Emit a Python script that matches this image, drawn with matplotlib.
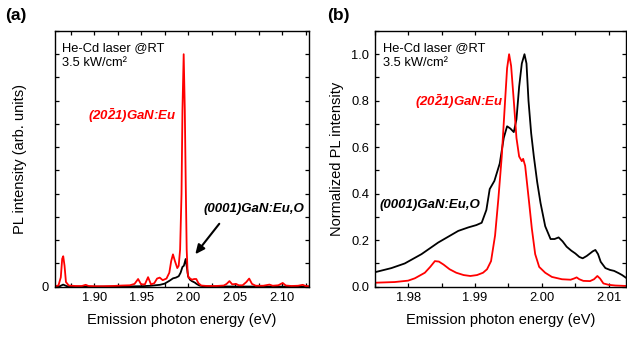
import numpy as np
import matplotlib
matplotlib.use("Agg")
import matplotlib.pyplot as plt
from matplotlib.ticker import MultipleLocator, FixedLocator, FuncFormatter

plt.rcParams['font.family'] = ['Liberation Sans', 'DejaVu Sans']
plt.rcParams['mathtext.fontset'] = 'custom'
plt.rcParams['mathtext.rm'] = 'Liberation Sans:bold:italic'
plt.rcParams['mathtext.it'] = 'Liberation Sans:bold:italic'
plt.rcParams['mathtext.bf'] = 'Liberation Sans:bold:italic'

# ---------------- data, panel (a): PL intensity (arb. units) ----------------
ea_red = [1.858, 1.862, 1.8645, 1.866, 1.8671, 1.8685, 1.870, 1.873, 1.880, 1.887,
          1.891, 1.894, 1.900, 1.910, 1.920, 1.930, 1.938, 1.943, 1.9468, 1.950,
          1.954, 1.9574, 1.9605, 1.964, 1.967, 1.9698, 1.973, 1.977, 1.980, 1.982,
          1.9839, 1.986, 1.9885, 1.990, 1.9915, 1.993, 1.994, 1.9953, 1.9965, 1.9975,
          1.9985, 1.9995, 2.0005, 2.002, 2.004, 2.0065, 2.0087, 2.011, 2.014, 2.020,
          2.030, 2.038, 2.041, 2.044, 2.047, 2.051, 2.054, 2.058, 2.062, 2.065,
          2.068, 2.072, 2.080, 2.0866, 2.090, 2.096, 2.1007, 2.104, 2.110, 2.117,
          2.122, 2.125, 2.129]
ia_red = [0.02, 0.05, 0.4, 1.2, 1.31, 0.9, 0.2, 0.05, 0.03, 0.03,
          0.08, 0.03, 0.02, 0.02, 0.03, 0.05, 0.06, 0.12, 0.33, 0.1,
          0.1, 0.41, 0.1, 0.15, 0.35, 0.39, 0.28, 0.35, 0.6, 1.1,
          1.39, 1.1, 0.8, 0.9, 1.6, 4.0, 7.6, 10.0, 7.6, 4.4,
          1.6, 0.6, 0.38, 0.36, 0.3, 0.33, 0.33, 0.15, 0.05, 0.03,
          0.03, 0.05, 0.12, 0.24, 0.1, 0.12, 0.06, 0.06, 0.2, 0.35,
          0.12, 0.04, 0.04, 0.09, 0.04, 0.06, 0.16, 0.05, 0.03, 0.04,
          0.08, 0.03, 0.02]

ea_black = [1.858, 1.8635, 1.867, 1.871, 1.880, 1.900, 1.930, 1.950, 1.960, 1.970,
            1.975, 1.980, 1.984, 1.987, 1.990, 1.992, 1.994, 1.9955, 1.9974, 1.999,
            2.000, 2.002, 2.004, 2.007, 2.009, 2.012, 2.016, 2.030, 2.129]
ia_black = [0.0, 0.02, 0.09, 0.02, 0.0, 0.0, 0.01, 0.02, 0.04, 0.08,
            0.13, 0.25, 0.36, 0.39, 0.45, 0.6, 0.85, 0.9, 1.19, 0.75,
            0.45, 0.3, 0.24, 0.18, 0.12, 0.05, 0.02, 0.01, 0.0]

# ---------------- data, panel (b): normalized PL intensity ----------------
eb_black = [1.9750, 1.9775, 1.9795, 1.9820, 1.9845, 1.9860, 1.9875, 1.9890, 1.9902, 1.9910,
            1.9917, 1.9922, 1.9929, 1.9937, 1.9943, 1.9948, 1.9953, 1.9958, 1.9962, 1.9966,
            1.9970, 1.9974, 1.9977, 1.9980, 1.9984, 1.9988, 1.9993, 1.9998, 2.0005, 2.0013,
            2.0019, 2.0025, 2.0031, 2.0037, 2.0044, 2.0050, 2.0056, 2.0061, 2.0067, 2.0072,
            2.0076, 2.0080, 2.0084, 2.0088, 2.0095, 2.0102, 2.0108, 2.0115, 2.0120, 2.0127]
ib_black = [0.062, 0.08, 0.10, 0.14, 0.19, 0.215, 0.24, 0.255, 0.265, 0.275,
            0.33, 0.42, 0.455, 0.53, 0.64, 0.69, 0.68, 0.665, 0.72, 0.86,
            0.96, 1.0, 0.96, 0.8, 0.66, 0.56, 0.45, 0.36, 0.26, 0.205,
            0.205, 0.212, 0.195, 0.172, 0.155, 0.143, 0.128, 0.122, 0.132, 0.143,
            0.152, 0.158, 0.14, 0.107, 0.08, 0.072, 0.068, 0.058, 0.05, 0.036]

eb_red = [1.9750, 1.9780, 1.9800, 1.9810, 1.9825, 1.9833, 1.9840, 1.9846, 1.9853, 1.9862,
          1.9872, 1.9883, 1.9893, 1.9903, 1.9912, 1.9918, 1.9924, 1.9930, 1.9935, 1.9940,
          1.9945, 1.9948, 1.9951, 1.9954, 1.9958, 1.9962, 1.9966, 1.9970, 1.9972, 1.9975,
          1.9978, 1.9981, 1.9985, 1.9990, 1.9996, 2.0005, 2.0015, 2.0030, 2.0043, 2.0048,
          2.0052, 2.0056, 2.0062, 2.0072, 2.0078, 2.0083, 2.0087, 2.0092, 2.0100, 2.0110,
          2.0127]
ib_red = [0.017, 0.02, 0.026, 0.036, 0.06, 0.085, 0.11, 0.108, 0.095, 0.075,
          0.06, 0.05, 0.046, 0.05, 0.06, 0.075, 0.11, 0.22, 0.38, 0.56,
          0.8, 0.94, 1.0, 0.95, 0.8, 0.64, 0.56, 0.54, 0.55, 0.52,
          0.44, 0.36, 0.25, 0.14, 0.085, 0.06, 0.042, 0.032, 0.03, 0.035,
          0.04, 0.032, 0.025, 0.024, 0.032, 0.046, 0.035, 0.014, 0.008, 0.005,
          0.003]

red_label = "(20$\\bar{2}$1)GaN:Eu"
black_label = "(0001)GaN:Eu,O"
laser_text = "He-Cd laser @RT\n3.5 kW/cm\u00b2"

fig = plt.figure(figsize=(6.27, 3.37), dpi=100)
ax1 = fig.add_axes([0.0872, 0.1493, 0.4061, 0.7588])
ax2 = fig.add_axes([0.5976, 0.1493, 0.4010, 0.7588])

for ax in (ax1, ax2):
    ax.tick_params(which='both', direction='in', top=True, right=True,
                   length=3, width=0.9, labelsize=9.3, pad=4)
    for s in ax.spines.values():
        s.set_linewidth(1.0)

# panel (a)
ax1.plot(ea_black, ia_black, color='black', lw=1.3)
ax1.plot(ea_red, ia_red, color='#ff0000', lw=1.3)
ax1.set_xlim(1.858, 2.129)
ax1.set_ylim(0, 11)
ax1.xaxis.set_major_locator(MultipleLocator(0.05))
ax1.xaxis.set_minor_locator(MultipleLocator(0.025))
ax1.xaxis.set_major_formatter(FuncFormatter(lambda v, p: f"{v:.2f}"))
ax1.yaxis.set_major_locator(FixedLocator(range(0, 12)))
ax1.yaxis.set_major_formatter(FuncFormatter(lambda v, p: '0' if abs(v) < 1e-9 else ''))
ax1.set_xlabel("Emission photon energy (eV)", fontsize=10.5, labelpad=6)
ax1.set_ylabel("PL intensity (arb. units)", fontsize=10.5, labelpad=11)
ax1.text(0.027, 0.955, laser_text, transform=ax1.transAxes, fontsize=9.3,
         va='top', ha='left', linespacing=1.3)
ax1.text(0.132, 0.668, red_label, transform=ax1.transAxes, fontsize=9.5,
         color='#ff0000', fontweight='bold', fontstyle='italic', va='center')
ax1.text(0.584, 0.304, black_label, transform=ax1.transAxes, fontsize=9.5,
         color='black', fontweight='bold', fontstyle='italic', va='center')
ax1.annotate("", xy=(2.0058, 1.3), xytext=(2.035, 2.8),
             arrowprops=dict(arrowstyle='-|>,head_length=0.55,head_width=0.25',
                             color='black', lw=1.5))

# panel (b)
ax2.plot(eb_black, ib_black, color='black', lw=1.3)
ax2.plot(eb_red, ib_red, color='#ff0000', lw=1.3)
ax2.set_xlim(1.975, 2.0126)
ax2.set_ylim(0, 1.1)
ax2.xaxis.set_major_locator(MultipleLocator(0.01))
ax2.xaxis.set_minor_locator(MultipleLocator(0.005))
ax2.xaxis.set_major_formatter(FuncFormatter(lambda v, p: f"{v:.2f}"))
ax2.yaxis.set_major_locator(MultipleLocator(0.2))
ax2.yaxis.set_minor_locator(MultipleLocator(0.1))
ax2.yaxis.set_major_formatter(FuncFormatter(lambda v, p: f"{v:.1f}"))
ax2.set_xlabel("Emission photon energy (eV)", fontsize=10.5, labelpad=6)
ax2.set_ylabel("Normalized PL intensity", fontsize=10.5, labelpad=5)
ax2.text(0.034, 0.955, laser_text, transform=ax2.transAxes, fontsize=9.3,
         va='top', ha='left', linespacing=1.3)
ax2.text(0.16, 0.722, red_label, transform=ax2.transAxes, fontsize=9.5,
         color='#ff0000', fontweight='bold', fontstyle='italic', va='center')
ax2.text(0.021, 0.32, black_label, transform=ax2.transAxes, fontsize=9.5,
         color='black', fontweight='bold', fontstyle='italic', va='center')

fig.text(0.008, 0.955, "(a)", fontsize=12.5, fontweight='bold', va='center')
fig.text(0.5215, 0.955, "(b)", fontsize=12.5, fontweight='bold', va='center')

fig.savefig("out.png", dpi=100)
